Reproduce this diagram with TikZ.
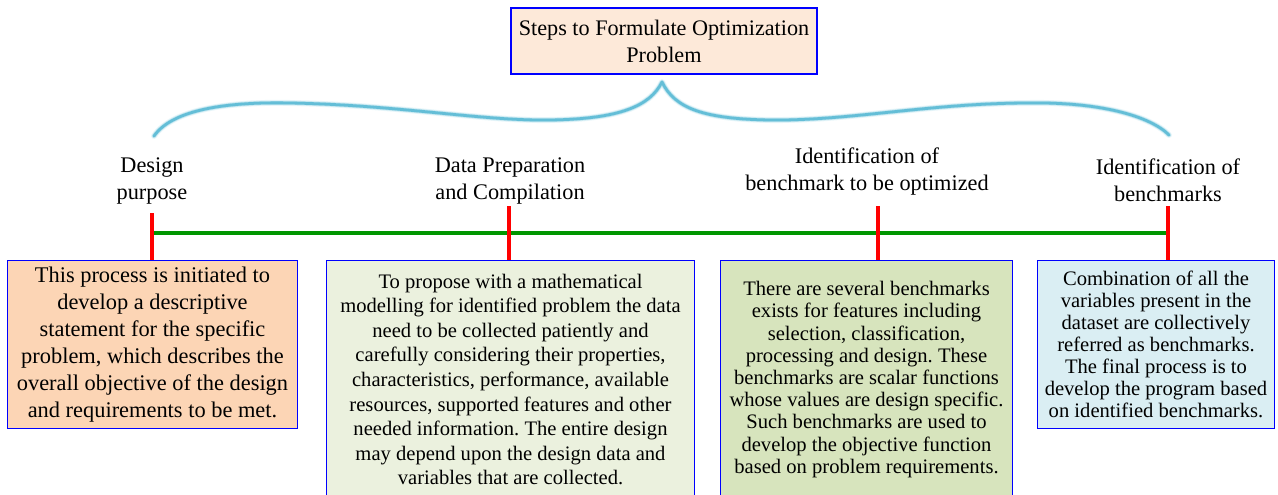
\documentclass[tikz,border=0pt]{standalone}
\usepackage{fontspec}
\setmainfont{Liberation Serif}
\frenchspacing
\definecolor{hdrfill}{HTML}{FDE9D9}
\definecolor{peachfill}{HTML}{FCD5B5}
\definecolor{palegreen}{HTML}{EBF1DE}
\definecolor{olivefill}{HTML}{D7E4BD}
\definecolor{icefill}{HTML}{DAEEF3}
\definecolor{bracecol}{RGB}{100,190,215}
\definecolor{railgreen}{RGB}{0,150,0}
\begin{document}
\begin{tikzpicture}[x=1pt,y=-1pt,
  panel/.style={draw=blue, line width=1pt, align=center, inner sep=0pt, anchor=north west},
  title/.style={draw=blue, line width=2.8pt, fill=hdrfill, align=center, inner sep=0pt,
    minimum width=306pt, minimum height=66pt, font=\fontsize{22.2}{27}\selectfont},
  steplabel/.style={align=center, inner sep=0pt, font=\fontsize{22.3}{27}\selectfont},
  rail/.style={draw=railgreen, line width=4pt},
  tick/.style={draw=red, line width=4.5pt},
  brace/.style={draw=bracecol, line cap=round, line join=round}]
\useasboundingbox (0,0) rectangle (1278,495);

% heading
\node[title] (head) at (664,41) {Steps to Formulate Optimization\\Problem};

% curly brace below the heading
\foreach \w/\o in {6/0.15, 4.2/0.35, 2.8/1} {
  \path[brace, line width=\w pt, opacity=\o]
    (154,136) .. controls (175,106) and (240,102) .. (290,103)
    .. controls (400,105) and (480,121) .. (550,120)
    .. controls (620,119) and (650,106) .. (662,82)
    .. controls (675,109) and (705,119) .. (770,120)
    .. controls (850,121) and (930,103) .. (1030,103)
    .. controls (1100,102) and (1150,116) .. (1169,135);
}

% step labels
\node[steplabel] (l1) at (152,180.5) {Design\\purpose};
\node[steplabel] (l2) at (510,180.5) {Data Preparation\\and Compilation};
\node[steplabel] (l3) at (867,172) {Identification of\\benchmark to be optimized};
\node[steplabel] (l4) at (1168,180.5) {Identification of\\benchmarks};

% description panels
\node[panel, fill=peachfill, minimum width=290pt, minimum height=168pt,
      font=\fontsize{22.4}{26.9}\selectfont] (p1) at (7,260)
  {This process is initiated to\\develop a descriptive\\statement for the specific\\problem, which describes the\\overall objective of the design\\and requirements to be met.};
\node[panel, fill=palegreen, minimum width=368pt, minimum height=238pt,
      font=\fontsize{20.6}{24.6}\selectfont] (p2) at (326,260)
  {To propose with a mathematical\\modelling for identified problem the data\\need to be collected patiently and\\carefully considering their properties,\\characteristics, performance, available\\resources, supported features and other\\needed information. The entire design\\may depend upon the design data and\\variables that are collected.};
\node[panel, fill=olivefill, minimum width=292pt, minimum height=238pt,
      font=\fontsize{20.6}{22.2}\selectfont] (p3) at (720,260)
  {There are several benchmarks\\exists for features including\\selection, classification,\\processing and design. These\\benchmarks are scalar functions\\whose values are design specific.\\Such benchmarks are used to\\develop the objective function\\based on problem requirements.};
\node[panel, fill=icefill, minimum width=237pt, minimum height=168pt,
      font=\fontsize{20.6}{22.1}\selectfont] (p4) at (1037,260)
  {Combination of all the\\variables present in the\\dataset are collectively\\referred as benchmarks.\\The final process is to\\develop the program based\\on identified benchmarks.};

% timeline rail and tick marks
\coordinate (t1) at (152,213);
\coordinate (t2) at (509,206);
\coordinate (t3) at (878,206);
\coordinate (t4) at (1168,206);
\coordinate (r1) at (152,233);
\coordinate (r4) at (1168,233);
\draw[rail] (r1) -- (r4);
\draw[tick] (t1) -- (t1 |- p1.north);
\draw[tick] (t2) -- (t2 |- p2.north);
\draw[tick] (t3) -- (t3 |- p3.north);
\draw[tick] (t4) -- (t4 |- p4.north);
\end{tikzpicture}
\end{document}
